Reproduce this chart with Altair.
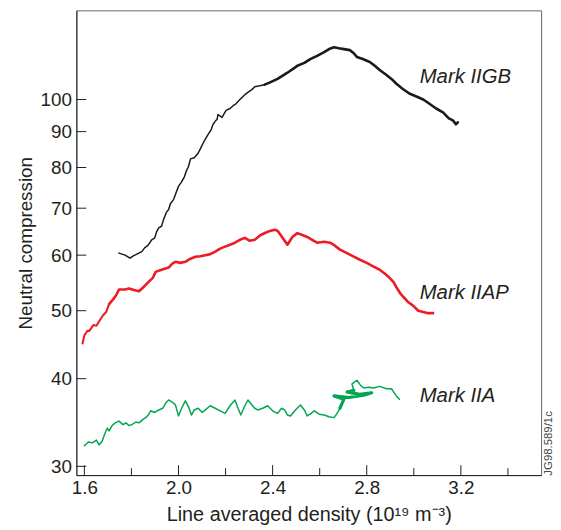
import altair as alt
import pandas as pd

# ---------------- data ----------------
# Mark IIGB (black) - thin rising part, then thick scribbled part
GB_THIN_X = [1.747, 1.773, 1.794, 1.806, 1.823, 1.844, 1.857, 1.869, 1.878, 1.886,
             1.899, 1.907, 1.916, 1.928, 1.937, 1.949, 1.958, 1.966, 1.979, 1.992,
             2.000, 2.013, 2.025, 2.034, 2.042, 2.051, 2.067, 2.084, 2.097, 2.105,
             2.114, 2.126, 2.139, 2.147, 2.156, 2.164, 2.168, 2.185, 2.202, 2.219,
             2.232, 2.244, 2.261, 2.282, 2.299, 2.312, 2.324, 2.345, 2.366]
GB_THIN_Y = [60.4, 60.0, 59.4, 59.8, 60.2, 60.7, 61.5, 61.9, 62.5, 63.1,
             63.5, 64.8, 65.6, 66.0, 67.5, 69.1, 69.7, 71.1, 72.0, 74.0,
             75.2, 76.3, 77.6, 79.2, 80.2, 82.3, 82.6, 83.9, 85.6, 86.7,
             87.8, 89.2, 90.6, 92.2, 93.1, 93.7, 95.2, 94.3, 96.5, 97.1,
             98.0, 98.6, 100.0, 101.6, 102.6, 103.3, 104.3, 104.6, 105.0]
GB_THICK_X = [2.387, 2.421, 2.463, 2.505, 2.535, 2.560, 2.589, 2.619, 2.640, 2.661,
              2.682, 2.703, 2.728, 2.745, 2.758, 2.783, 2.813, 2.834, 2.855, 2.884,
              2.905, 2.926, 2.952, 2.981, 3.011, 3.040, 3.065, 3.095, 3.124, 3.149,
              3.166, 3.179, 3.187]
GB_THICK_Y = [105.7, 107.0, 109.2, 111.7, 112.8, 114.2, 115.4, 116.8, 118.0, 118.7,
              118.3, 118.0, 117.6, 116.4, 115.0, 114.2, 113.1, 111.7, 110.2, 108.4,
              107.0, 105.3, 103.6, 102.0, 101.0, 100.0, 98.7, 97.1, 95.9, 94.0,
              93.4, 92.2, 92.8]

# Mark IIAP (red)
AP_A_X = [1.592, 1.600, 1.613, 1.621, 1.638, 1.651, 1.663, 1.680, 1.693, 1.705]
AP_A_Y = [44.9, 46.1, 46.8, 46.8, 47.7, 47.6, 48.3, 49.3, 49.8, 51.1]
AP_B_X = [1.722, 1.735, 1.747, 1.773, 1.789, 1.811, 1.832, 1.853, 1.874, 1.891,
          1.903, 1.928, 1.958, 1.975, 1.987, 2.008, 2.029, 2.051, 2.072, 2.093,
          2.114, 2.135, 2.156, 2.177, 2.198, 2.219, 2.240, 2.261, 2.282, 2.303,
          2.324, 2.349, 2.379, 2.408, 2.421, 2.434, 2.451, 2.463, 2.484, 2.505,
          2.526, 2.547, 2.568, 2.589, 2.619, 2.644, 2.665, 2.686, 2.716, 2.745,
          2.771, 2.800, 2.829, 2.855, 2.876, 2.897, 2.914, 2.926, 2.943, 2.956,
          2.977, 2.998, 3.019, 3.040, 3.061, 3.082]
AP_B_Y = [51.9, 52.6, 53.6, 53.6, 53.8, 53.5, 53.3, 54.1, 55.0, 55.7,
          56.8, 57.2, 57.6, 58.4, 58.7, 58.5, 58.7, 59.3, 59.7, 59.8,
          60.0, 60.2, 60.7, 61.3, 61.7, 62.1, 62.5, 63.1, 63.5, 62.9,
          63.1, 64.1, 64.8, 65.2, 65.0, 64.1, 62.9, 62.1, 63.7, 64.5,
          64.1, 63.7, 63.1, 62.5, 62.7, 62.5, 61.9, 61.1, 60.4, 59.7,
          59.1, 58.5, 57.8, 57.2, 56.5, 55.7, 54.9, 54.0, 52.9, 52.3,
          51.4, 50.8, 50.0, 49.8, 49.6, 49.6]

# Mark IIA (green)
A_A_X = [1.600, 1.617, 1.634, 1.651, 1.663, 1.676, 1.684, 1.697, 1.705, 1.718,
         1.731, 1.747, 1.764, 1.777, 1.789, 1.802, 1.819, 1.832, 1.849, 1.861,
         1.874, 1.882, 1.899, 1.916, 1.933, 1.945, 1.958, 1.975, 1.987, 2.000,
         2.013, 2.029, 2.042, 2.055, 2.067, 2.084, 2.101, 2.114, 2.135, 2.156,
         2.177, 2.198, 2.219, 2.240, 2.253, 2.265, 2.282, 2.295, 2.312, 2.324,
         2.337, 2.358, 2.379, 2.400, 2.421, 2.438, 2.451, 2.463, 2.476, 2.497,
         2.518, 2.535, 2.547, 2.564, 2.577, 2.598, 2.619, 2.640, 2.661, 2.674,
         2.686]
A_A_Y = [32.1, 32.5, 32.4, 32.7, 32.2, 32.6, 33.2, 34.0, 33.7, 34.3,
         34.6, 34.8, 34.4, 34.6, 34.3, 34.4, 34.7, 34.6, 35.0, 35.2,
         35.6, 36.0, 35.8, 36.1, 36.3, 36.9, 37.3, 37.0, 36.7, 35.4,
         36.3, 37.2, 36.5, 35.5, 36.1, 36.3, 35.8, 36.1, 36.6, 36.3,
         36.0, 35.7, 36.6, 37.3, 36.3, 35.5, 36.6, 37.3, 36.7, 36.3,
         36.1, 36.3, 36.6, 36.0, 35.7, 36.3, 36.1, 35.5, 35.4, 36.1,
         36.7, 36.1, 35.4, 35.7, 36.0, 35.6, 35.5, 35.3, 35.2, 35.7,
         36.3]
A_B_X = [2.703, 2.661, 2.724, 2.787, 2.821, 2.770, 2.716, 2.745]
A_B_Y = [37.4, 37.8, 37.6, 37.9, 38.2, 38.0, 38.3, 38.5]
A_C_X = [2.737, 2.758, 2.775, 2.787, 2.808, 2.829, 2.855, 2.884, 2.905,
         2.914, 2.926, 2.939]
A_C_Y = [39.3, 39.8, 39.1, 38.8, 38.9, 38.8, 39.0, 38.7, 38.7,
         38.3, 37.8, 37.4]

SERIES_NAMES = ["Mark IIGB", "Mark IIAP", "Mark IIA"]
SERIES_COLORS = ["#1a1a1a", "#ed1c24", "#00a651"]

LABEL_X = [3.025, 3.025, 3.025]
LABEL_Y = [105.6, 51.9, 37.1]

X_MAJOR = [1.6, 2.0, 2.4, 2.8, 3.2]
X_MINOR = [1.8, 2.2, 2.6, 3.0, 3.4]
Y_TICKS = [30, 40, 50, 60, 70, 80, 90, 100]

SEGMENTS = {
    "Mark IIGB": [("thin", GB_THIN_X, GB_THIN_Y), ("thick", GB_THICK_X, GB_THICK_Y)],
    "Mark IIAP": [("mid", AP_A_X, AP_A_Y), ("thick", AP_B_X, AP_B_Y)],
    "Mark IIA": [("thin", A_A_X, A_A_Y), ("blob", A_B_X, A_B_Y), ("thin", A_C_X, A_C_Y)],
}

rows = []
for name, segs in SEGMENTS.items():
    prev = None
    for si, (kind, xs, ys) in enumerate(segs):
        if len(xs) != len(ys):
            raise ValueError(f"length mismatch in {name} segment {si}")
        pts = list(zip(xs, ys))
        if prev is not None:
            pts = [prev] + pts
        for i, (x, y) in enumerate(pts):
            rows.append({"series": name, "seg": f"{name}-{si}", "kind": kind,
                         "order": i, "x": x, "y": y})
        prev = pts[-1]
df = pd.DataFrame(rows)

FONT = "Liberation Sans"
TXT = "#231f20"
W, H = 469, 469

xscale = alt.Scale(domain=[1.566, 3.541], nice=False, zero=False)
yscale = alt.Scale(type="log", domain=[29.15, 134.0], nice=False)

xaxis = alt.Axis(values=X_MAJOR, format=".1f", ticks=False, tickSize=0,
                 grid=False, labelFont=FONT, labelFontSize=19,
                 labelColor=TXT, labelPadding=4, labelFlush=False,
                 labelOverlap=False, domainColor=TXT, domainWidth=1,
                 title="Line averaged density (10\u00b9\u2079 m\u207b\u00b3)",
                 titleFont=FONT, titleFontSize=20, titleFontWeight="normal",
                 titleColor=TXT, titlePadding=7)
yaxis = alt.Axis(values=Y_TICKS, format="d", ticks=False, tickSize=0,
                 grid=False, labelFont=FONT, labelFontSize=19,
                 labelColor=TXT, labelPadding=5, labelFlush=False,
                 labelOverlap=False, domainColor=TXT, domainWidth=1,
                 title="Neutral compression", titleFont=FONT,
                 titleFontSize=19, titleFontWeight="normal",
                 titleColor=TXT, titlePadding=5)

lines = alt.Chart(df).mark_line(strokeJoin="round", strokeCap="round").encode(
    x=alt.X("x:Q", scale=xscale, axis=xaxis),
    y=alt.Y("y:Q", scale=yscale, axis=yaxis),
    color=alt.Color("series:N", scale=alt.Scale(domain=SERIES_NAMES, range=SERIES_COLORS),
                    legend=None),
    strokeWidth=alt.StrokeWidth("kind:N",
                                scale=alt.Scale(domain=["thin", "mid", "thick", "blob"],
                                                range=[1.5, 3.2, 5.5, 5.0]),
                                legend=None),
    detail="seg:N",
    order="order:Q",
)

major = alt.Chart(pd.DataFrame({"x": X_MAJOR})).mark_rule(color=TXT, strokeWidth=1).encode(
    x=alt.X("x:Q", scale=xscale), y=alt.value(H), y2=alt.value(H - 10))
minor = alt.Chart(pd.DataFrame({"x": X_MINOR})).mark_rule(color=TXT, strokeWidth=1).encode(
    x=alt.X("x:Q", scale=xscale), y=alt.value(H), y2=alt.value(H - 7))
yt = alt.Chart(pd.DataFrame({"y": Y_TICKS})).mark_rule(color=TXT, strokeWidth=1).encode(
    y=alt.Y("y:Q", scale=yscale), x=alt.value(0), x2=alt.value(10))

labels = alt.Chart(pd.DataFrame({"t": SERIES_NAMES, "x": LABEL_X, "y": LABEL_Y})).mark_text(
    align="left", baseline="alphabetic", font=FONT, fontSize=20.5, fontStyle="italic",
    color=TXT).encode(
    x=alt.X("x:Q", scale=xscale), y=alt.Y("y:Q", scale=yscale),
    text="t:N")

stamp = alt.Chart(pd.DataFrame({"t": ["JG98.589/1c"]})).mark_text(
    angle=270, align="center", baseline="middle", font=FONT, fontSize=11.5,
    color="#444444").encode(x=alt.value(477), y=alt.value(437), text="t:N")

chart = alt.layer(lines, major, minor, yt, labels, stamp).properties(
    width=W, height=H,
    padding={"left": 69, "top": 0, "right": 12, "bottom": 50},
    autosize=alt.AutoSizeParams(type="none"),
).configure_view(stroke="#666666", strokeWidth=1)

chart.save("out.html", embed_options={"renderer": "svg", "actions": False})
